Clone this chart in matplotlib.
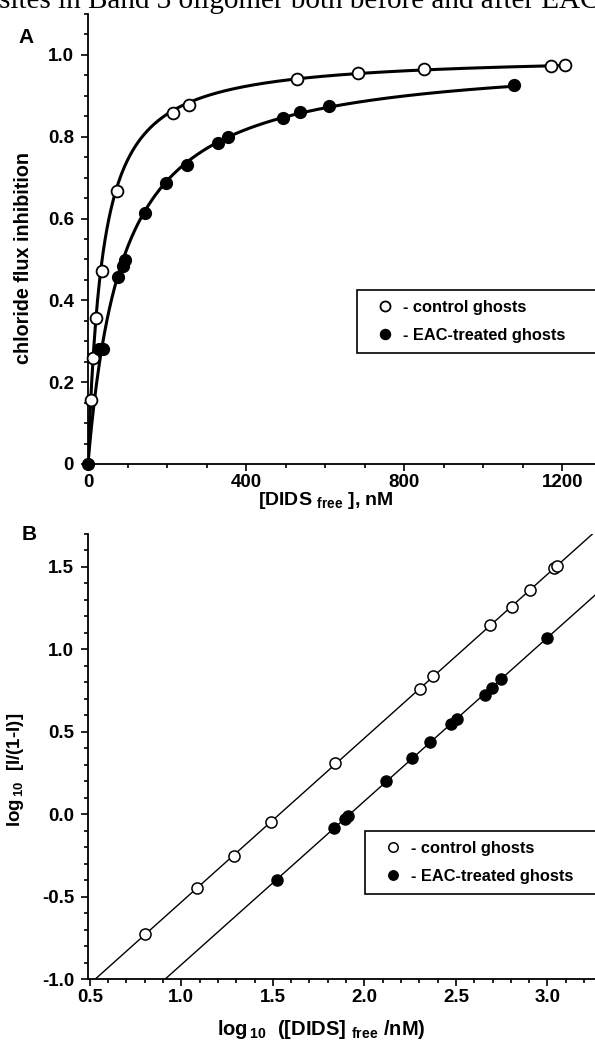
import numpy as np
import matplotlib
matplotlib.use("Agg")
import matplotlib.pyplot as plt
from matplotlib.ticker import MultipleLocator, FuncFormatter


# ---------------------------------------------------------
# Data
# ---------------------------------------------------------

# panel A: chloride flux inhibition vs free DIDS (nM)
ctrl_a_x = [7, 12, 19, 35, 73, 215, 255, 528, 683, 851, 1171, 1208]
ctrl_a_y = [0.156, 0.26, 0.357, 0.472, 0.668, 0.857, 0.877, 0.94, 0.957, 0.965, 0.972, 0.976]

eac_a_x = [0, 28, 38, 77, 89, 94, 143, 197, 250, 328, 354, 493, 537, 611, 1079]
eac_a_y = [0.0, 0.282, 0.282, 0.457, 0.485, 0.498, 0.613, 0.686, 0.732, 0.784, 0.799,
           0.847, 0.861, 0.876, 0.927]

# panel B: Hill plot
ctrl_b_x = [0.804, 1.087, 1.285, 1.491, 1.842, 2.304, 2.376, 2.686, 2.806, 2.904, 3.037, 3.055]
ctrl_b_y = [-0.726, -0.449, -0.252, -0.046, 0.308, 0.760, 0.840, 1.149, 1.259, 1.360, 1.492, 1.507]

eac_b_x = [1.524, 1.833, 1.895, 1.913, 2.118, 2.258, 2.358, 2.473, 2.506, 2.658, 2.695, 2.746, 3.0]
eac_b_y = [-0.397, -0.081, -0.030, -0.010, 0.201, 0.341, 0.437, 0.550, 0.579, 0.726, 0.764,
           0.820, 1.072]

labels = ["- control ghosts", "- EAC-treated ghosts"]
caption = "sites in Band 3 oligomer both before and after EAC"


# ---------------------------------------------------------
# Style / layout helpers
# ---------------------------------------------------------

W, H = 595, 1052

plt.rcParams["font.family"] = ["Liberation Sans", "DejaVu Sans"]
plt.rcParams["font.weight"] = "bold"
plt.rcParams["mathtext.fontset"] = "custom"
plt.rcParams["mathtext.rm"] = "Liberation Sans:bold"
plt.rcParams["mathtext.bf"] = "Liberation Sans:bold"
plt.rcParams["mathtext.default"] = "rm"


def fx(px):
    return px / W


def fy(py):
    return 1 - py / H


def box(left, top, right, bottom):
    return [fx(left), fy(bottom), (right - left) / W, (bottom - top) / H]


def style_axes(ax):
    for s in ["top", "right"]:
        ax.spines[s].set_visible(False)
    for s in ["left", "bottom"]:
        ax.spines[s].set_linewidth(1.3)
    ax.tick_params(which="both", direction="out", width=1.2, labelsize=13.5)
    ax.tick_params(which="major", length=5)
    ax.tick_params(which="minor", length=3)
    ax.tick_params(axis="y", pad=5)
    ax.tick_params(axis="x", pad=2)


def hill_fit(x, y):
    x = np.asarray(x, float)
    y = np.asarray(y, float)
    keep = (x > 0) & (y > 0) & (y < 1)
    n, b = np.polyfit(np.log10(x[keep]), np.log10(y[keep] / (1 - y[keep])), 1)
    return n, b


def hill(x, n, b):
    k = np.power(x, n) * 10 ** b
    return k / (1 + k)


def add_legend(ax, handles, left, top, bottom):
    leg = ax.legend(handles, labels, loc="lower left", mode="expand",
                    bbox_to_anchor=(fx(left), fy(bottom), fx(660) - fx(left), (bottom - top) / H),
                    bbox_transform=ax.figure.transFigure, borderaxespad=0,
                    fontsize=11.8, labelspacing=0.8, borderpad=0.6,
                    handlelength=2.2, handletextpad=0.0, markerscale=0.85,
                    fancybox=False, framealpha=1, edgecolor="black")
    leg.get_frame().set_linewidth(1.2)
    return leg


fig = plt.figure(figsize=(W / 100, H / 100), dpi=100)

# caption line of the page, cut by the top edge as in the scan
fig.text(fx(-1), fy(8), caption, family="Liberation Serif", weight="normal",
         fontsize=21, va="baseline", ha="left")


# ---------------------------------------------------------
# Panel A
# ---------------------------------------------------------

ax_a = fig.add_axes(box(88, 14, 595, 464))
style_axes(ax_a)

n_c, b_c = hill_fit(ctrl_a_x, ctrl_a_y)
n_e, b_e = hill_fit(eac_a_x, eac_a_y)

xc = np.linspace(0, max(ctrl_a_x) - 10, 500)
xe = np.linspace(0, max(eac_a_x) + 6, 500)
ax_a.plot(xc, hill(xc, n_c, b_c), color="black", lw=2.2, zorder=2)
ax_a.plot(xe, hill(xe, n_e, b_e), color="black", lw=2.2, zorder=2)

h1, = ax_a.plot(ctrl_a_x, ctrl_a_y, "o", ms=8.5, mfc="white", mec="black", mew=1.3,
                clip_on=False, zorder=3)
h2, = ax_a.plot(eac_a_x, eac_a_y, "o", ms=8.5, mfc="black", mec="black", mew=1.0,
                clip_on=False, zorder=3)

ax_a.set_xlim(0, 1283)
ax_a.set_ylim(0, 1.1)
ax_a.set_xticks([0, 400, 800, 1200])
ax_a.xaxis.set_minor_locator(MultipleLocator(100))
ax_a.set_yticks([0, 0.2, 0.4, 0.6, 0.8, 1.0])
ax_a.yaxis.set_minor_locator(MultipleLocator(0.05))
ax_a.yaxis.set_major_formatter(FuncFormatter(lambda v, p: "0" if v == 0 else f"{v:.1f}"))

fig.text(fx(24), fy(258), "chloride flux inhibition", rotation=90, fontsize=14.2,
         ha="center", va="center")
fig.text(fx(258), fy(505), r"[DIDS $_{\mathrm{free}}$ ], nM", fontsize=14,
         ha="left", va="baseline")
fig.text(fx(18), fy(43), "A", fontsize=15, ha="left", va="baseline")

add_legend(ax_a, [h1, h2], 357, 287, 353)


# ---------------------------------------------------------
# Panel B
# ---------------------------------------------------------

ax_b = fig.add_axes(box(88, 534, 595, 979))
style_axes(ax_b)

xlo, xhi = 0.49, 3.26
line_x = np.linspace(xlo, xhi, 100)
for xs, ys in [(ctrl_b_x, ctrl_b_y), (eac_b_x, eac_b_y)]:
    slope, icpt = np.polyfit(xs, ys, 1)
    ax_b.plot(line_x, slope * line_x + icpt, color="black", lw=1.0, zorder=2)

g1, = ax_b.plot(ctrl_b_x, ctrl_b_y, "o", ms=8, mfc="white", mec="black", mew=1.1, zorder=3)
g2, = ax_b.plot(eac_b_x, eac_b_y, "o", ms=8, mfc="black", mec="black", mew=1.0, zorder=3)

ax_b.set_xlim(xlo, xhi)
ax_b.set_ylim(-1.0, 1.70)
ax_b.set_xticks([0.5, 1.0, 1.5, 2.0, 2.5, 3.0])
ax_b.xaxis.set_minor_locator(MultipleLocator(0.1))
ax_b.set_yticks([-1.0, -0.5, 0.0, 0.5, 1.0, 1.5])
ax_b.yaxis.set_minor_locator(MultipleLocator(0.1))
ax_b.xaxis.set_major_formatter(FuncFormatter(lambda v, p: f"{v:.1f}"))
ax_b.yaxis.set_major_formatter(FuncFormatter(lambda v, p: f"{v:.1f}"))

fig.text(fx(16), fy(770), r"log$_{\,10}$  [I/(1-I)]", rotation=90, fontsize=13.5,
         ha="center", va="center")
fig.text(fx(217), fy(1035), r"log$_{\,10}$  ([DIDS] $_{\mathrm{free}}$ /nM)", fontsize=14.5,
         ha="left", va="baseline")
fig.text(fx(22), fy(540), "B", fontsize=15, ha="left", va="baseline")

add_legend(ax_b, [g1, g2], 365, 830, 894)

fig.savefig("out.png", dpi=100)
